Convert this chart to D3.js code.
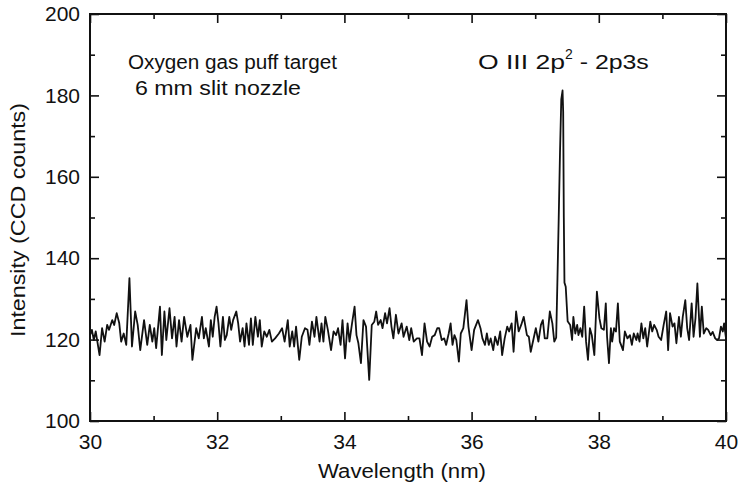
<!DOCTYPE html>
<html>
<head>
<meta charset="utf-8">
<title>Oxygen gas puff target spectrum</title>
<script src="https://cdn.jsdelivr.net/npm/d3@7"></script>
<style>
body { margin: 0; background: #fff; }
text { font-family: "Liberation Sans", Arial, sans-serif; fill: #111; }
</style>
</head>
<body>
<script>

// wavelength (nm) and intensity (CCD counts)
var wavelength = [
30.00,30.03,30.06,30.09,30.15,30.19,30.23,30.27,30.30,30.35,30.38,30.42,30.46,30.49,30.53,30.57,30.62,30.66,30.71,30.75,
30.79,30.85,30.90,30.94,30.98,31.01,31.04,31.10,31.13,31.17,31.20,31.25,31.29,31.33,31.36,31.40,31.44,31.48,31.53,31.58,
31.61,31.67,31.71,31.76,31.79,31.82,31.87,31.90,31.93,31.96,31.99,32.02,32.05,32.09,32.12,32.15,32.19,32.22,32.25,32.30,
32.33,32.36,32.40,32.43,32.46,32.50,32.53,32.56,32.60,32.64,32.67,32.70,32.74,32.78,32.82,32.86,32.91,32.97,33.02,33.06,
33.11,33.14,33.18,33.21,33.24,33.29,33.33,33.38,33.42,33.45,33.49,33.53,33.56,33.61,33.64,33.67,33.70,33.74,33.79,33.83,
33.87,33.90,33.94,33.97,34.01,34.05,34.08,34.12,34.16,34.19,34.22,34.26,34.30,34.34,34.39,34.43,34.47,34.50,34.53,34.57,
34.60,34.64,34.67,34.71,34.74,34.77,34.81,34.85,34.90,34.93,34.98,35.02,35.05,35.09,35.14,35.18,35.22,35.26,35.30,35.34,
35.38,35.42,35.46,35.49,35.53,35.57,35.60,35.64,35.67,35.70,35.73,35.76,35.80,35.83,35.87,35.92,35.95,36.00,36.04,36.10,
36.14,36.17,36.21,36.24,36.27,36.30,36.34,36.37,36.41,36.45,36.48,36.52,36.56,36.59,36.63,36.66,36.70,36.74,36.78,36.82,
36.87,36.90,36.93,36.97,37.01,37.05,37.09,37.12,37.15,37.19,37.23,37.27,37.30,37.33,37.35,37.37,37.39,37.41,37.43,37.44,
37.45,37.46,37.48,37.51,37.55,37.58,37.60,37.63,37.66,37.68,37.71,37.74,37.77,37.80,37.83,37.86,37.89,37.93,37.97,38.01,
38.04,38.08,38.11,38.13,38.16,38.19,38.21,38.24,38.27,38.30,38.33,38.35,38.38,38.41,38.45,38.49,38.52,38.55,38.59,38.61,
38.64,38.67,38.70,38.73,38.76,38.81,38.84,38.87,38.91,38.94,38.98,39.02,39.06,39.09,39.12,39.16,39.19,39.22,39.26,39.29,
39.32,39.36,39.39,39.42,39.46,39.49,39.52,39.55,39.59,39.62,39.65,39.69,39.72,39.76,39.79,39.83,39.86,39.89,39.92,39.95,
39.97,40.00
];
var intensity = [
121.1,122.4,119.9,122.0,116.2,122.8,119.5,123.6,122.4,124.8,123.6,126.5,124.0,119.5,121.5,118.7,135.1,118.3,126.9,123.6,
117.4,124.8,118.7,123.6,119.5,122.8,117.9,128.1,116.2,126.9,119.9,127.7,120.3,125.6,118.3,124.8,119.5,125.6,120.7,123.6,
115.0,122.8,120.3,125.6,120.3,122.8,118.3,124.8,120.7,125.6,128.1,124.0,118.3,125.6,119.9,121.1,125.6,122.4,124.8,126.9,
124.0,119.5,122.8,118.3,124.0,118.7,125.2,118.7,125.6,120.7,124.8,118.3,122.0,120.7,122.4,119.5,120.3,121.5,122.8,119.5,
124.8,118.3,122.0,118.3,123.2,115.0,120.7,122.8,122.4,118.7,124.4,120.7,125.6,119.5,124.0,119.5,125.6,122.4,117.4,122.0,
121.1,122.8,118.7,124.8,115.4,124.0,119.5,124.0,128.1,121.1,119.1,114.2,124.8,123.2,110.1,123.6,124.4,126.9,123.6,124.8,
122.8,126.5,124.0,127.7,123.2,120.3,126.1,121.5,124.0,120.7,123.2,119.9,122.8,119.5,120.3,120.3,116.2,124.0,119.5,118.3,
120.7,121.1,122.8,122.8,119.9,120.3,118.7,121.5,124.0,118.7,121.1,119.9,114.6,121.5,122.8,129.7,123.2,117.4,122.4,124.8,
122.8,120.3,118.7,121.5,118.7,120.3,117.4,120.7,118.7,122.0,116.2,120.3,123.2,122.0,124.0,117.0,126.9,122.0,123.6,125.6,
121.1,120.7,117.0,119.9,122.8,119.5,123.6,124.8,120.3,120.3,126.9,124.0,119.5,120.5,135.0,150.0,166.0,179.0,181.2,176.0,
150.0,134.0,133.0,124.5,123.6,119.9,125.6,121.5,123.6,121.1,122.8,120.7,128.1,119.5,115.0,122.8,121.1,116.2,131.8,125.2,
122.8,122.4,128.9,120.7,114.2,122.8,119.5,122.8,122.0,128.9,119.5,118.7,117.4,122.0,120.3,121.1,118.7,121.5,119.9,121.5,
119.5,124.0,120.3,122.8,118.3,124.4,122.0,123.6,122.4,120.7,119.9,123.6,126.9,117.4,126.5,123.2,124.0,119.1,125.6,120.7,
125.6,129.7,122.8,119.9,128.9,120.7,125.2,133.8,120.7,128.1,121.5,122.8,122.4,121.1,121.9,120.3,119.9,120.3,123.2,122.0,
124.0,120.3
];

var xMajor = [30, 32, 34, 36, 38, 40];
var xMinor = [31, 33, 35, 37, 39];
var yMajor = [100, 120, 140, 160, 180, 200];
var yMinor = [110, 130, 150, 170, 190];

var data = wavelength.map(function(w, i) { return {w: w, v: intensity[i]}; });

var margin = {top: 14, right: 12, bottom: 70, left: 90},
  width = 738 - margin.left - margin.right,
  height = 491 - margin.top - margin.bottom;

var svg = d3.select("body").append("svg")
  .attr("width", 738)
  .attr("height", 491)
 .append("g")
  .attr("transform", "translate(" + margin.left + "," + margin.top + ")");

var x = d3.scaleLinear().domain([30, 40]).range([0, width]);
var y = d3.scaleLinear().domain([100, 200]).range([height, 0]);

// spectrum
var line = d3.line()
  .x(function(d) { return x(d.w); })
  .y(function(d) { return y(d.v); });

svg.append("path")
  .datum(data)
  .attr("fill", "none")
  .attr("stroke", "#111")
  .attr("stroke-width", 1.8)
  .attr("stroke-linejoin", "round")
  .attr("d", line);

// axes: inward ticks on all four sides
function styleAxis(g) {
  g.select(".domain").remove();
  g.selectAll(".tick line").attr("stroke", "#111").attr("stroke-width", 1.6);
  g.selectAll(".tick text").style("font-size", "21px").attr("fill", "#111");
}

svg.append("g")
  .attr("transform", "translate(0," + height + ")")
  .call(d3.axisBottom(x).tickValues(xMajor).tickSizeInner(-9).tickPadding(13).tickFormat(d3.format("d")))
  .call(styleAxis);
svg.append("g")
  .attr("transform", "translate(0," + height + ")")
  .call(d3.axisBottom(x).tickValues(xMinor).tickSizeInner(-5).tickFormat(""))
  .call(styleAxis);
svg.append("g")
  .call(d3.axisTop(x).tickValues(xMajor).tickSizeInner(-9).tickFormat(""))
  .call(styleAxis);
svg.append("g")
  .call(d3.axisTop(x).tickValues(xMinor).tickSizeInner(-5).tickFormat(""))
  .call(styleAxis);

svg.append("g")
  .call(d3.axisLeft(y).tickValues(yMajor).tickSizeInner(-9).tickPadding(10).tickFormat(d3.format("d")))
  .call(styleAxis);
svg.append("g")
  .call(d3.axisLeft(y).tickValues(yMinor).tickSizeInner(-5).tickFormat(""))
  .call(styleAxis);
svg.append("g")
  .attr("transform", "translate(" + width + ",0)")
  .call(d3.axisRight(y).tickValues(yMajor).tickSizeInner(-9).tickFormat(""))
  .call(styleAxis);
svg.append("g")
  .attr("transform", "translate(" + width + ",0)")
  .call(d3.axisRight(y).tickValues(yMinor).tickSizeInner(-5).tickFormat(""))
  .call(styleAxis);

// frame
svg.append("rect")
  .attr("width", width)
  .attr("height", height)
  .attr("fill", "none")
  .attr("stroke", "#111")
  .attr("stroke-width", 2);

// axis titles
svg.append("text")
  .attr("x", 228)
  .attr("y", height + 57)
  .attr("textLength", 168)
  .attr("lengthAdjust", "spacingAndGlyphs")
  .style("font-size", "20px")
  .text("Wavelength (nm)");

svg.append("g")
  .attr("transform", "translate(-65," + (337 - margin.top) + ")")
 .append("text")
  .attr("transform", "rotate(-90)")
  .attr("textLength", 234)
  .attr("lengthAdjust", "spacingAndGlyphs")
  .style("font-size", "20px")
  .text("Intensity (CCD counts)");

// annotations
svg.append("text")
  .attr("x", 38)
  .attr("y", 55)
  .attr("textLength", 209)
  .attr("lengthAdjust", "spacingAndGlyphs")
  .style("font-size", "20px")
  .text("Oxygen gas puff target");

svg.append("text")
  .attr("x", 45)
  .attr("y", 81)
  .attr("textLength", 166)
  .attr("lengthAdjust", "spacingAndGlyphs")
  .style("font-size", "20px")
  .text("6 mm slit nozzle");

var label = svg.append("text")
  .attr("x", 388)
  .attr("y", 55)
  .style("font-size", "20px");
label.append("tspan").attr("textLength", 87).attr("lengthAdjust", "spacingAndGlyphs").text("O III 2p");
label.append("tspan").attr("dy", -10).style("font-size", "14px").text("2");
label.append("tspan").attr("dy", 10).attr("textLength", 76).attr("lengthAdjust", "spacingAndGlyphs").text(" - 2p3s");

</script>
</body>
</html>
